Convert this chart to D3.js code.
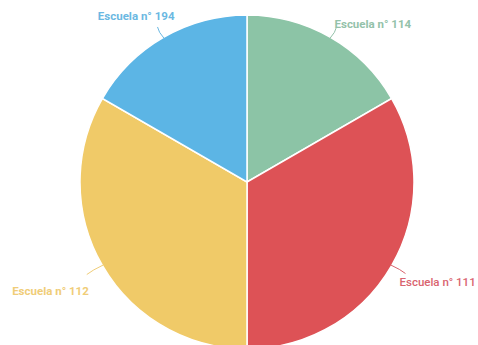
<!DOCTYPE html>
<html>
<head>
<meta charset="utf-8">
<script src="https://cdn.jsdelivr.net/npm/d3@7"></script>
<style>
    body { margin: 0; background: #fff; }
    text { font-family: Roboto, "Noto Sans", sans-serif; }
</style>
</head>
<body>
<div id="chart"></div>
<script>
const width = 478;
const height = 345;

// slices, clockwise from 12 o'clock
const schools = ["Escuela n° 114", "Escuela n° 111", "Escuela n° 112", "Escuela n° 194"];
const counts = [1, 2, 2, 1];
const colors = ["#8cc4a6", "#dd5256", "#f0ca68", "#5cb5e5"];
const labelColors = ["#94c2aa", "#d9646f", "#f0cd78", "#6bb8e2"];

const cx = 247, cy = 182, radius = 167;

const svg = d3.select("#chart").append("svg")
    .attr("width", width)
    .attr("height", height);

const g = svg.append("g").attr("transform", `translate(${cx},${cy})`);

const pie = d3.pie().sort(null).value(d => d.value);
const arcs = pie(schools.map((s, i) => ({ name: s, value: counts[i], i: i })));

const arc = d3.arc().innerRadius(0).outerRadius(radius);

g.selectAll("path.slice")
    .data(arcs)
    .join("path")
    .attr("class", "slice")
    .attr("d", arc)
    .attr("fill", d => colors[d.data.i])
    .attr("stroke", "#fff")
    .attr("stroke-width", 1.5);

function pointAt(d, r) {
    const a = (d.startAngle + d.endAngle) / 2;
    return [r * Math.sin(a), -r * Math.cos(a)];
}

// leader length and label nudge per slice
const labelOffset = [
    { len: 12, dx: -2, dy: 1, anchor: "start" },   // 114
    { len: 16, dx: -6, dy: 12, anchor: "start" },  // 111
    { len: 18, dx: 2, dy: 20, anchor: "end" },     // 112
    { len: 12, dx: 17, dy: -7, anchor: "end" }     // 194
];

g.selectAll("path.leader")
    .data(arcs)
    .join("path")
    .attr("class", "leader")
    .attr("fill", "none")
    .attr("stroke", d => labelColors[d.data.i])
    .attr("stroke-width", 1)
    .attr("d", d => {
        const L = labelOffset[d.data.i].len;
        const p0 = pointAt(d, radius - 1);
        const p1 = pointAt(d, radius + L);
        const mid = pointAt(d, radius + L / 2);
        return `M${p0[0]},${p0[1]}Q${mid[0] + (p1[0] > 0 ? 2 : -2)},${mid[1]} ${p1[0]},${p1[1]}`;
    });

g.selectAll("text.label")
    .data(arcs)
    .join("text")
    .attr("class", "label")
    .attr("x", d => pointAt(d, radius + labelOffset[d.data.i].len)[0] + labelOffset[d.data.i].dx)
    .attr("y", d => pointAt(d, radius + labelOffset[d.data.i].len)[1] + labelOffset[d.data.i].dy)
    .attr("text-anchor", d => labelOffset[d.data.i].anchor)
    .attr("fill", d => labelColors[d.data.i])
    .attr("font-size", 11.5)
    .attr("font-weight", d => d.data.i === 1 ? 500 : 700)
    .text(d => d.data.name);
</script>
</body>
</html>
